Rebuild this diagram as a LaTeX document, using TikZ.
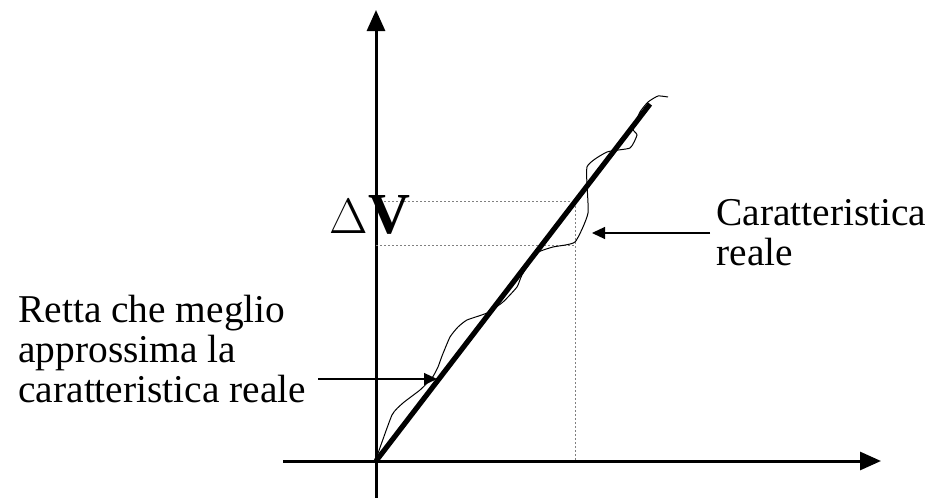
\documentclass[tikz,border=0pt]{standalone}
\usepackage{fontspec}
\setmainfont{Liberation Serif}
\usetikzlibrary{arrows.meta}

\begin{document}
\begin{tikzpicture}[
    x=0.5pt, y=-0.5pt,
    axis/.style={line width=1.5pt, -{Triangle[length=10.5pt, width=9pt]}},
    fit/.style={line width=2.6pt},
    real/.style={line width=0.5pt},
    guide/.style={line width=0.5pt, gray, dash pattern=on 1pt off 1pt},
    note/.style={inner sep=0pt, align=left, font=\fontsize{19.7}{20}\selectfont},
    arr/.style={line width=0.6pt, -{Triangle[length=6.5pt, width=6pt]}}
  ]
    \useasboundingbox (0,0) rectangle (934,498);

    \coordinate (O) at (376,461);
    \coordinate (xstart) at (283,461);
    \coordinate (xend) at (881,461);
    \coordinate (ybot) at (376,498);
    \coordinate (yend) at (376,10);
    \coordinate (fitend) at (650,104);

    % axes
    \draw[axis] (xstart) -- (xend);
    \draw[axis] (ybot) -- (yend);

    % Delta V guides
    \coordinate (vtop) at (376,201);
    \coordinate (vbot) at (376,245);
    \coordinate (dtop) at (575,201);
    \coordinate (dbot) at (575,245);
    \coordinate (dfoot) at (575,461);
    \draw[guide] (vtop) -- (dtop) -- (dfoot);
    \draw[guide] (vbot) -- (dbot);
    \node[inner sep=0pt, font=\fontsize{29}{30}\selectfont] (dv) at (370,215) {{\fontsize{38}{38}\selectfont$\Delta$}\textbf{V}};

    % real characteristic
    \draw[real] plot[smooth, tension=0.3] coordinates {
      (376,459) (392,415) (403,403) (420,390) (432,378) (438,367)
      (442,356) (450,337) (458,327) (467,320) (487,313) (503,302)
      (517,287) (522,275) (537,253) (553,247) (575,242) (588,213)
      (587,167) (607,152) (630,148) (637,135) (633,129) (640,112)
      (648,102) (658,96) (668,97)};

    % best fit line
    \draw[fit] (O) -- (fitend);

    % labels
    \node[note, anchor=west] (retta) at (18,349) {Retta che meglio\\approssima la\\caratteristica reale};
    \node[note, anchor=west] (reale) at (716,233) {Caratteristica\\reale};

    \coordinate (rettatail) at (318,379);
    \coordinate (rettatip) at (437,379);
    \coordinate (realetail) at (710,233);
    \coordinate (realetip) at (592,233);
    \draw[arr] (rettatail) -- (rettatip);
    \draw[arr] (realetail) -- (realetip);
  \end{tikzpicture}
\end{document}
